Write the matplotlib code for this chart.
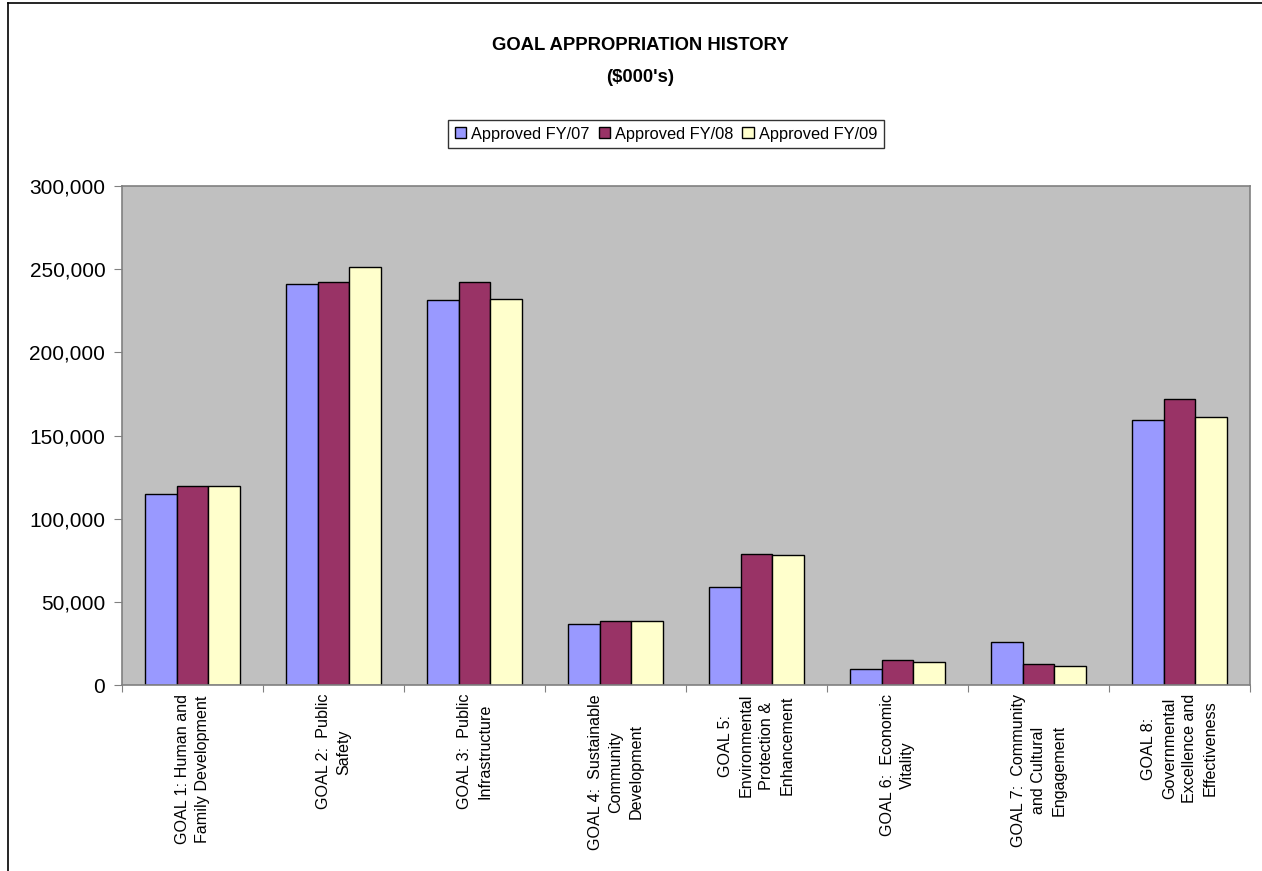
import numpy as np
import matplotlib
matplotlib.use("Agg")
import matplotlib.pyplot as plt
from matplotlib.lines import Line2D
from matplotlib.ticker import FuncFormatter, MultipleLocator

plt.rcParams['font.family'] = ['Liberation Sans', 'DejaVu Sans']

# data ($000's)
goals = [
    "GOAL 1: Human and\nFamily Development",
    "GOAL 2:  Public\nSafety",
    "GOAL 3:  Public\nInfrastructure",
    "GOAL 4:  Sustainable\nCommunity\nDevelopment",
    "GOAL 5:\nEnvironmental\nProtection &\nEnhancement",
    "GOAL 6:  Economic\nVitality",
    "GOAL 7:  Community\nand Cultural\nEngagement",
    "GOAL 8:\nGovernmental\nExcellence and\nEffectiveness",
]
fy07 = [115000, 241300, 231300, 36500, 59100, 9600, 25700, 159100]
fy08 = [119500, 242100, 242100, 38500, 78900, 14800, 12600, 171800]
fy09 = [119500, 251300, 232100, 38500, 78200, 14000, 11400, 160900]

series = [("Approved FY/07", fy07, "#9999FF"),
          ("Approved FY/08", fy08, "#993366"),
          ("Approved FY/09", fy09, "#FFFFCC")]

fig = plt.figure(figsize=(12.62, 8.71), dpi=100)
ax = fig.add_axes([122 / 1262, 1 - 685 / 871, 1128 / 1262, 499 / 871])
ax.set_facecolor("#C0C0C0")

x = np.arange(len(goals)) + 0.5
w = 0.2235
for i, (name, vals, color) in enumerate(series):
    ax.bar(x + (i - 1) * w, vals, width=w, color=color, edgecolor="black",
           linewidth=1.0, label=name)

ax.set_xlim(0, len(goals))
ax.set_ylim(0, 300000)
ax.yaxis.set_major_locator(MultipleLocator(50000))
ax.yaxis.set_major_formatter(FuncFormatter(lambda v, p: f"{int(v):,}"))
ax.tick_params(axis="y", labelsize=15, length=6, color="#808080", pad=6)

# ticks at category boundaries, labels at centers
ax.set_xticks(np.arange(len(goals) + 1))
ax.set_xticklabels([])
ax.tick_params(axis="x", length=5, color="#808080")
for xi, lab in zip(x, goals):
    ax.text(xi, -0.018, lab, transform=ax.get_xaxis_transform(), rotation=90,
            ha="center", va="top", multialignment="center", fontsize=11.6,
            linespacing=1.45)

for s in ax.spines.values():
    s.set_color("#808080")
    s.set_linewidth(1.2)

fig.text(640 / 1262, 1 - 45 / 871, "GOAL APPROPRIATION HISTORY",
         ha="center", va="center", fontsize=13.3, fontweight="bold")
fig.text(640 / 1262, 1 - 77 / 871, "($000's)",
         ha="center", va="center", fontsize=13.3, fontweight="bold")

leg = fig.legend(loc="center", bbox_to_anchor=(666 / 1262, 1 - 134 / 871),
                 ncol=3, fontsize=11.8, frameon=True, fancybox=False,
                 handlelength=0.7, handleheight=0.7, handletextpad=0.3,
                 columnspacing=0.55, borderpad=0.4, borderaxespad=0)
leg.get_frame().set_edgecolor("black")
leg.get_frame().set_linewidth(1.0)

# outer chart frame (left and top edges visible)
fig.add_artist(Line2D([8 / 1262, 8 / 1262], [0, 1 - 3 / 871], color="black", lw=1.2))
fig.add_artist(Line2D([8 / 1262, 1], [1 - 3 / 871, 1 - 3 / 871], color="black", lw=1.2))

fig.savefig("out.png", dpi=100)
